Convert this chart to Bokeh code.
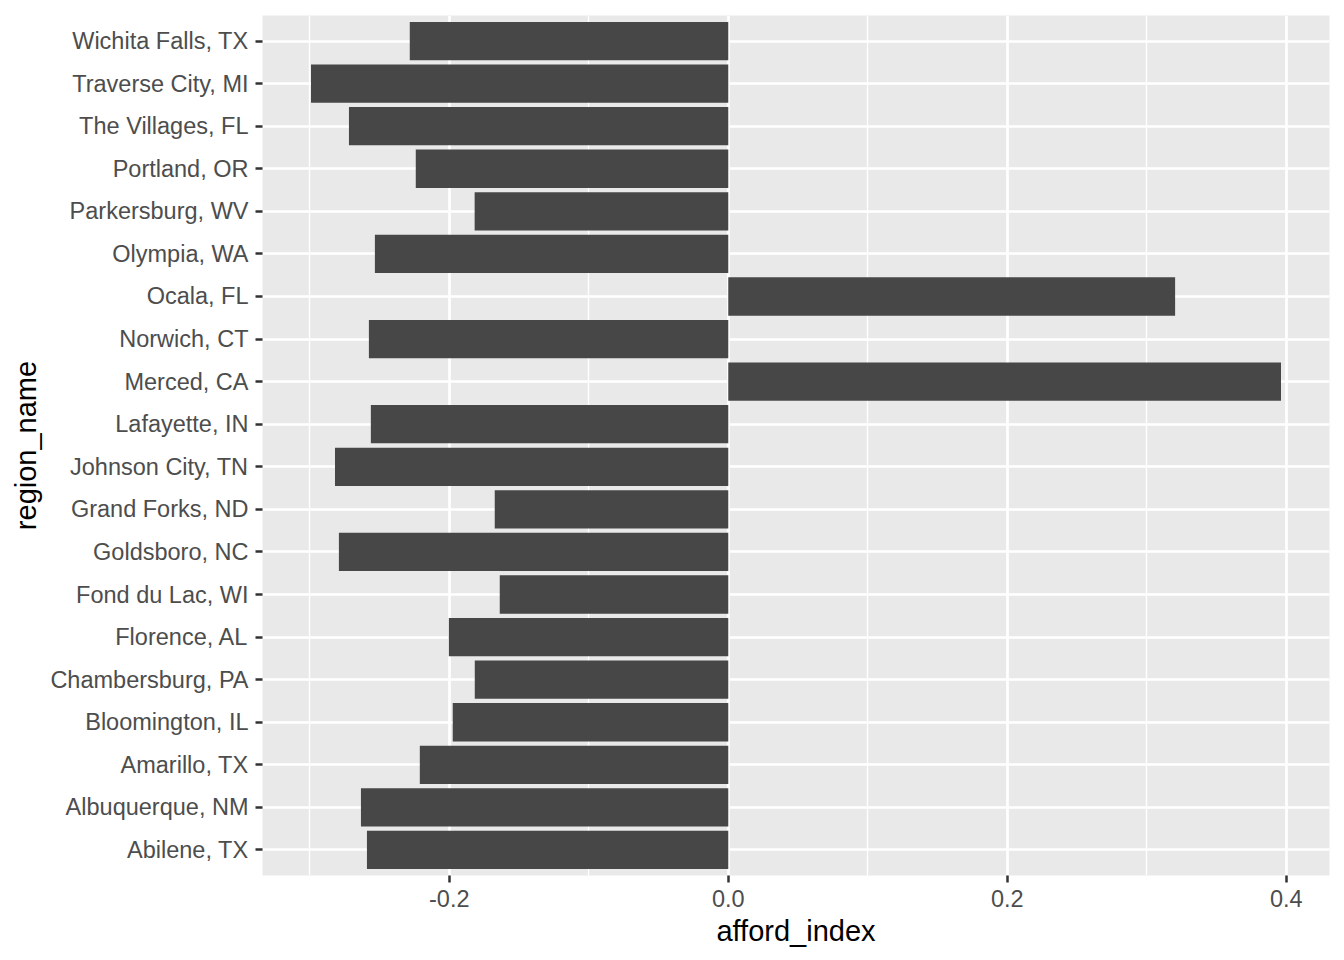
from bokeh.plotting import figure
from bokeh.models import FactorRange, Range1d, FixedTicker, NumeralTickFormatter, ColumnDataSource
from bokeh.embed import file_html
from bokeh.resources import INLINE

regions = [
    "Abilene, TX", "Albuquerque, NM", "Amarillo, TX", "Bloomington, IL",
    "Chambersburg, PA", "Florence, AL", "Fond du Lac, WI", "Goldsboro, NC",
    "Grand Forks, ND", "Johnson City, TN", "Lafayette, IN", "Merced, CA",
    "Norwich, CT", "Ocala, FL", "Olympia, WA", "Parkersburg, WV",
    "Portland, OR", "The Villages, FL", "Traverse City, MI", "Wichita Falls, TX",
]
afford_index = [
    -0.2590, -0.2633, -0.2211, -0.1975,
    -0.1817, -0.2003, -0.1638, -0.2791,
    -0.1674, -0.2819, -0.2562, 0.3962,
    -0.2576, 0.3203, -0.2533, -0.1818,
    -0.2240, -0.2719, -0.2991, -0.2283,
]
major_ticks = [-0.2, 0.0, 0.2, 0.4]
minor_ticks = [-0.3, -0.1, 0.1, 0.3]

lo = min(min(afford_index), 0.0)
hi = max(max(afford_index), 0.0)
pad = (hi - lo) * 0.05

FONT = "Liberation Sans"

p = figure(
    width=1344, height=960,
    y_range=FactorRange(factors=regions, range_padding=0.1, range_padding_units="absolute"),
    x_range=Range1d(lo - pad, hi + pad),
    output_backend="svg", toolbar_location=None,
    min_border_left=262, min_border_right=15, min_border_top=15, min_border_bottom=85,
)

src = ColumnDataSource(dict(region=regions, value=afford_index))
p.hbar(y="region", left=0, right="value", height=0.9, source=src,
       fill_color="#474747", line_color=None)

p.background_fill_color = "#E9E9E9"
p.border_fill_color = "white"
p.outline_line_color = None

p.xaxis.ticker = FixedTicker(ticks=major_ticks, minor_ticks=minor_ticks)
p.xaxis.formatter = NumeralTickFormatter(format="0.0")

for g in [p.xgrid[0], p.ygrid[0]]:
    g.grid_line_color = "white"
    g.grid_line_width = 2.7
p.xgrid.minor_grid_line_color = "white"
p.xgrid.minor_grid_line_width = 1.4

for ax in [p.xaxis[0], p.yaxis[0]]:
    ax.axis_line_color = None
    ax.major_tick_line_color = "#333333"
    ax.major_tick_line_width = 2.5
    ax.major_tick_in = 0
    ax.major_tick_out = 7
    ax.minor_tick_line_color = None
    ax.major_label_text_font = FONT
    ax.major_label_text_font_size = "23.5px"
    ax.major_label_text_color = "#4D4D4D"
    ax.axis_label_text_font = FONT
    ax.axis_label_text_font_size = "29px"
    ax.axis_label_text_font_style = "normal"
    ax.axis_label_text_color = "black"

p.xaxis.axis_label = "afford_index"
p.yaxis.axis_label = "region_name"
p.xaxis.major_label_standoff = 7
p.xaxis.axis_label_standoff = 5
p.yaxis.major_label_standoff = 7
p.yaxis.axis_label_standoff = 5

open("out.html", "w").write(file_html(p, INLINE))
